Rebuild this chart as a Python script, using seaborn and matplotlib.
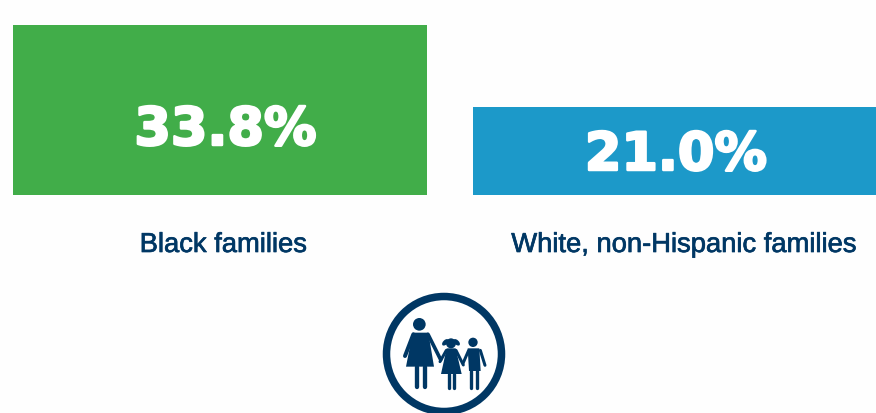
import matplotlib
matplotlib.use("Agg")
import matplotlib.pyplot as plt
from matplotlib.patches import Circle, Ellipse, Polygon
import matplotlib.patheffects as pe
import pandas as pd
import seaborn as sns

categories = ["Black families", "White, non-Hispanic families"]
values = [33.8, 21.0]
value_labels = ["33.8%", "21.0%"]
bar_colors = ["#41AD49", "#1C99C9"]
NAVY = "#003764"
W, H = 876, 414

sns.set_theme(style="white")

fig = plt.figure(figsize=(W / 100, H / 100), dpi=100, facecolor="#FEFEFE")

# bar band: pixel rows 25..195, the source chart's baseline is not zero
ax = fig.add_axes([0, 1 - 196 / H, 1, 170 / H])
df = pd.DataFrame({"group": categories, "share": values})
sns.barplot(data=df, x="group", y="share", hue="group", palette=bar_colors,
            legend=False, ax=ax, saturation=1, width=0.9, linewidth=0)
ax.set_xlim(-220 / 454.5, (W - 220) / 454.5)
ax.set_ylim(7.27, 33.8)
ax.axis("off")
for patch, w in zip(ax.patches, [414 / 454.5, 403 / 454.5]):
    c = patch.get_x() + patch.get_width() / 2
    patch.set_width(w)
    patch.set_x(c - w / 2)

# overlay in pixel coordinates for the text and the icon
ov = fig.add_axes([0, 0, 1, 1], facecolor="none")
ov.set_xlim(0, W)
ov.set_ylim(H - 1, -1)
ov.axis("off")

for x, y, s in zip([225.5, 676], [145, 170], value_labels):
    ov.text(x, y, s, ha="center", va="baseline", color="white", fontsize=37.8,
            family="DejaVu Sans", weight="bold",
            path_effects=[pe.withStroke(linewidth=1.8, foreground="white")])
for x, s in zip([223.5, 684], categories):
    ov.text(x, 252, s, ha="center", va="baseline", color=NAVY, fontsize=19.7,
            family="Liberation Sans",
            path_effects=[pe.withStroke(linewidth=0.5, foreground=NAVY)])

# family icon
def z(p):
    return (370 + p[0] / 3, 285 + p[1] / 3)

def limb(a, b, w):
    (x0, y0), (x1, y1) = z(a), z(b)
    ov.plot([x0, x1], [y0, y1], color=NAVY, lw=w * 0.72 / 3, solid_capstyle="round")

def poly(pts):
    ov.add_patch(Polygon([z(p) for p in pts], closed=True, fc=NAVY, ec="none"))

def head(c, r):
    ov.add_patch(Circle(z(c), r / 3, fc=NAVY, ec="none"))

ov.add_patch(Circle((444, 354), 57.5, fc="white", ec=NAVY, lw=7.5 * 0.72))

head((148, 118), 19)
poly([(128, 143), (175, 143), (192, 245), (108, 245)])
limb((130, 148), (105, 213), 12)
limb((174, 148), (212, 224), 11)
limb((141, 245), (141, 306), 13)
limb((164, 245), (164, 306), 13)

head((243, 175), 15)
for cx, ang in [(226, -45), (260, 45)]:
    c = z((cx, 172))
    ov.add_patch(Ellipse(c, 8, 4.5, angle=ang, fc=NAVY, ec="none"))
poly([(230, 190), (257, 190), (275, 267), (213, 267)])
limb((229, 196), (210, 230), 9)
limb((258, 196), (280, 240), 9)
limb((236, 267), (236, 309), 10)
limb((252, 267), (252, 309), 10)

head((309, 172), 14)
poly([(293, 190), (328, 190), (332, 258), (297, 258)])
limb((296, 196), (279, 235), 9)
limb((331, 196), (345, 241), 9)
limb((304, 258), (304, 309), 10)
limb((320, 258), (320, 309), 10)

fig.savefig("out.png", dpi=100, facecolor=fig.get_facecolor())
